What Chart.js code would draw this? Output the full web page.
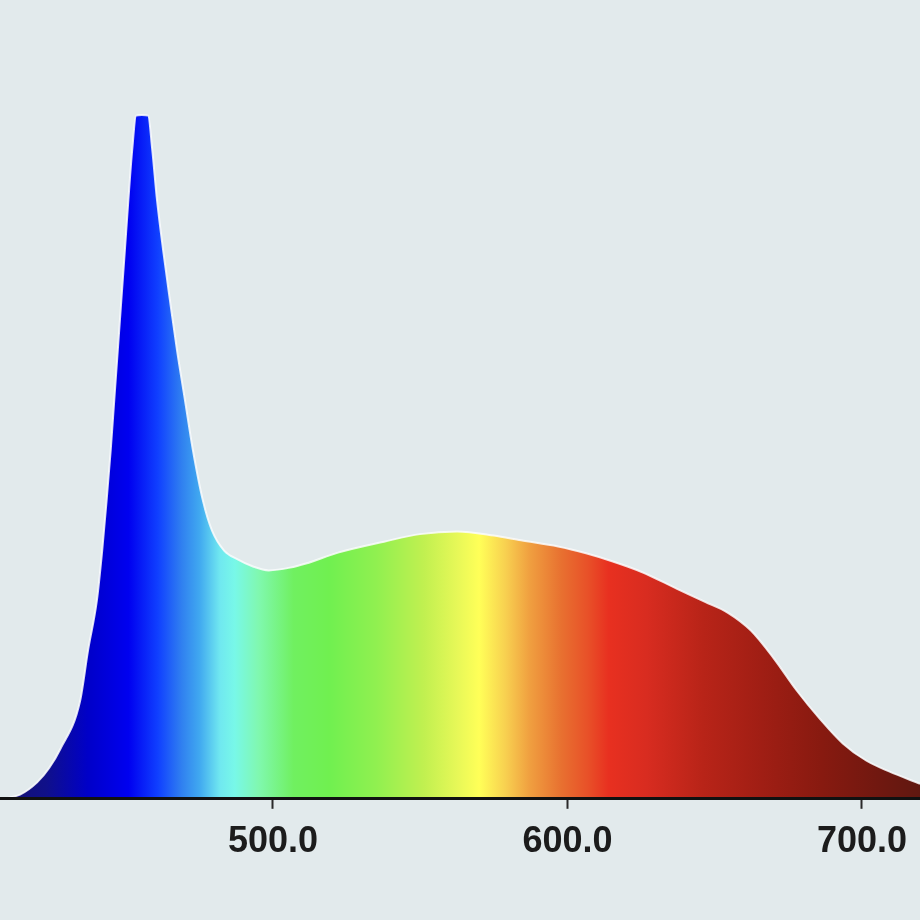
<!DOCTYPE html>
<html>
<head>
<meta charset="utf-8">
<script src="https://cdn.jsdelivr.net/npm/chart.js@4/dist/chart.umd.min.js"></script>
<style>
  html, body { margin: 0; padding: 0; background: #e2eaec; }
  #wrap { width: 920px; height: 920px; }
</style>
</head>
<body>
<div id="wrap"><canvas id="c" width="920" height="920"></canvas></div>
<script>
// Wavelength (nm) samples of the spectrum outline
const wavelengths = [407.3, 410.7, 414.1, 419.9, 424.0, 427.7, 434.5, 437.2, 440.2, 442.0, 443.5, 444.9, 446.1, 447.3, 448.5, 449.7, 450.9, 452.2, 453.5, 455.5, 457.6, 459.0, 460.6, 462.7, 465.0, 467.4, 470.1, 472.8, 476.2, 479.3, 483.4, 488.0, 493.0, 498.6, 505.8, 511.2, 522.1, 537.7, 549.9, 562.5, 575.0, 584.2, 596.8, 606.3, 615.4, 625.0, 637.2, 646.7, 654.5, 662.3, 670.1, 677.9, 685.7, 693.5, 701.4, 709.2, 719.7];
// Relative intensity (peak = 1)
const intensity = [0.000, 0.002, 0.006, 0.024, 0.045, 0.072, 0.143, 0.217, 0.290, 0.363, 0.436, 0.510, 0.583, 0.656, 0.729, 0.802, 0.876, 0.949, 0.999, 1.000, 0.999, 0.949, 0.876, 0.802, 0.729, 0.656, 0.583, 0.510, 0.436, 0.392, 0.363, 0.350, 0.340, 0.334, 0.338, 0.344, 0.360, 0.376, 0.387, 0.391, 0.385, 0.378, 0.369, 0.359, 0.347, 0.332, 0.307, 0.288, 0.272, 0.246, 0.205, 0.158, 0.117, 0.081, 0.056, 0.040, 0.022];
// X-axis tick values
const xTicks = [500, 600, 700];
// Spectrum colour stops (wavelength -> colour)
const stopNm = [407, 423, 437, 451, 461, 469, 475, 482, 487, 495, 507, 519, 535, 551, 563, 570, 579, 587, 598, 607, 614, 627, 646, 666, 686, 706, 720];
const stopColor = ['#141070', '#10108a', '#0000c8', '#0000f0', '#1040ff', '#3080f0', '#40a8f0', '#70e8f0', '#78f8e8', '#80f8b0', '#70f060', '#70f050', '#90f050', '#c0f050', '#e8f858', '#ffff58', '#f8d050', '#f0a040', '#e87030', '#e85028', '#e83020', '#d82c20', '#b82418', '#a01e14', '#881a10', '#701810', '#601810'];

const points = wavelengths.map((w, i) => ({ x: w, y: intensity[i] }));

function spectrumFill(ctx) {
  const chart = ctx.chart;
  const area = chart.chartArea;
  if (!area) return '#0000f0';
  const xs = chart.scales.x;
  const x0 = area.left, x1 = area.right;
  const g = chart.ctx.createLinearGradient(x0, 0, x1, 0);
  stopNm.forEach((nm, i) => {
    let t = (xs.getPixelForValue(nm) - x0) / (x1 - x0);
    t = Math.max(0, Math.min(1, t));
    g.addColorStop(t, stopColor[i]);
  });
  return g;
}

new Chart(document.getElementById('c'), {
  type: 'line',
  data: {
    datasets: [{
      data: points,
      fill: 'origin',
      backgroundColor: spectrumFill,
      borderColor: 'rgba(250,252,253,0.85)',
      borderWidth: 2,
      pointRadius: 0,
      cubicInterpolationMode: 'monotone'
    }]
  },
  options: {
    responsive: false,
    animation: false,
    layout: { padding: { left: 0, right: 0, top: 0, bottom: 44 } },
    plugins: { legend: { display: false }, tooltip: { enabled: false } },
    scales: {
      x: {
        type: 'linear',
        min: 407.3,
        max: 719.7,
        afterBuildTicks: (s) => { s.ticks = xTicks.map(v => ({ value: v })); },
        ticks: {
          callback: (v) => Number(v).toFixed(1),
          font: { family: 'Liberation Sans, Arial, sans-serif', size: 36, weight: 'bold', lineHeight: 1.2 },
          color: '#1c1c1c',
          padding: 12,
          maxRotation: 0,
          autoSkip: false,
          z: 1
        },
        grid: { display: true, drawOnChartArea: false, drawTicks: true, tickLength: 10, tickWidth: 2, tickColor: '#2a2a2a', z: 1 },
        border: { display: true, color: '#111111', width: 3, z: 1 }
      },
      y: {
        display: false,
        min: 0,
        max: 1.168
      }
    }
  }
});
</script>
</body>
</html>
